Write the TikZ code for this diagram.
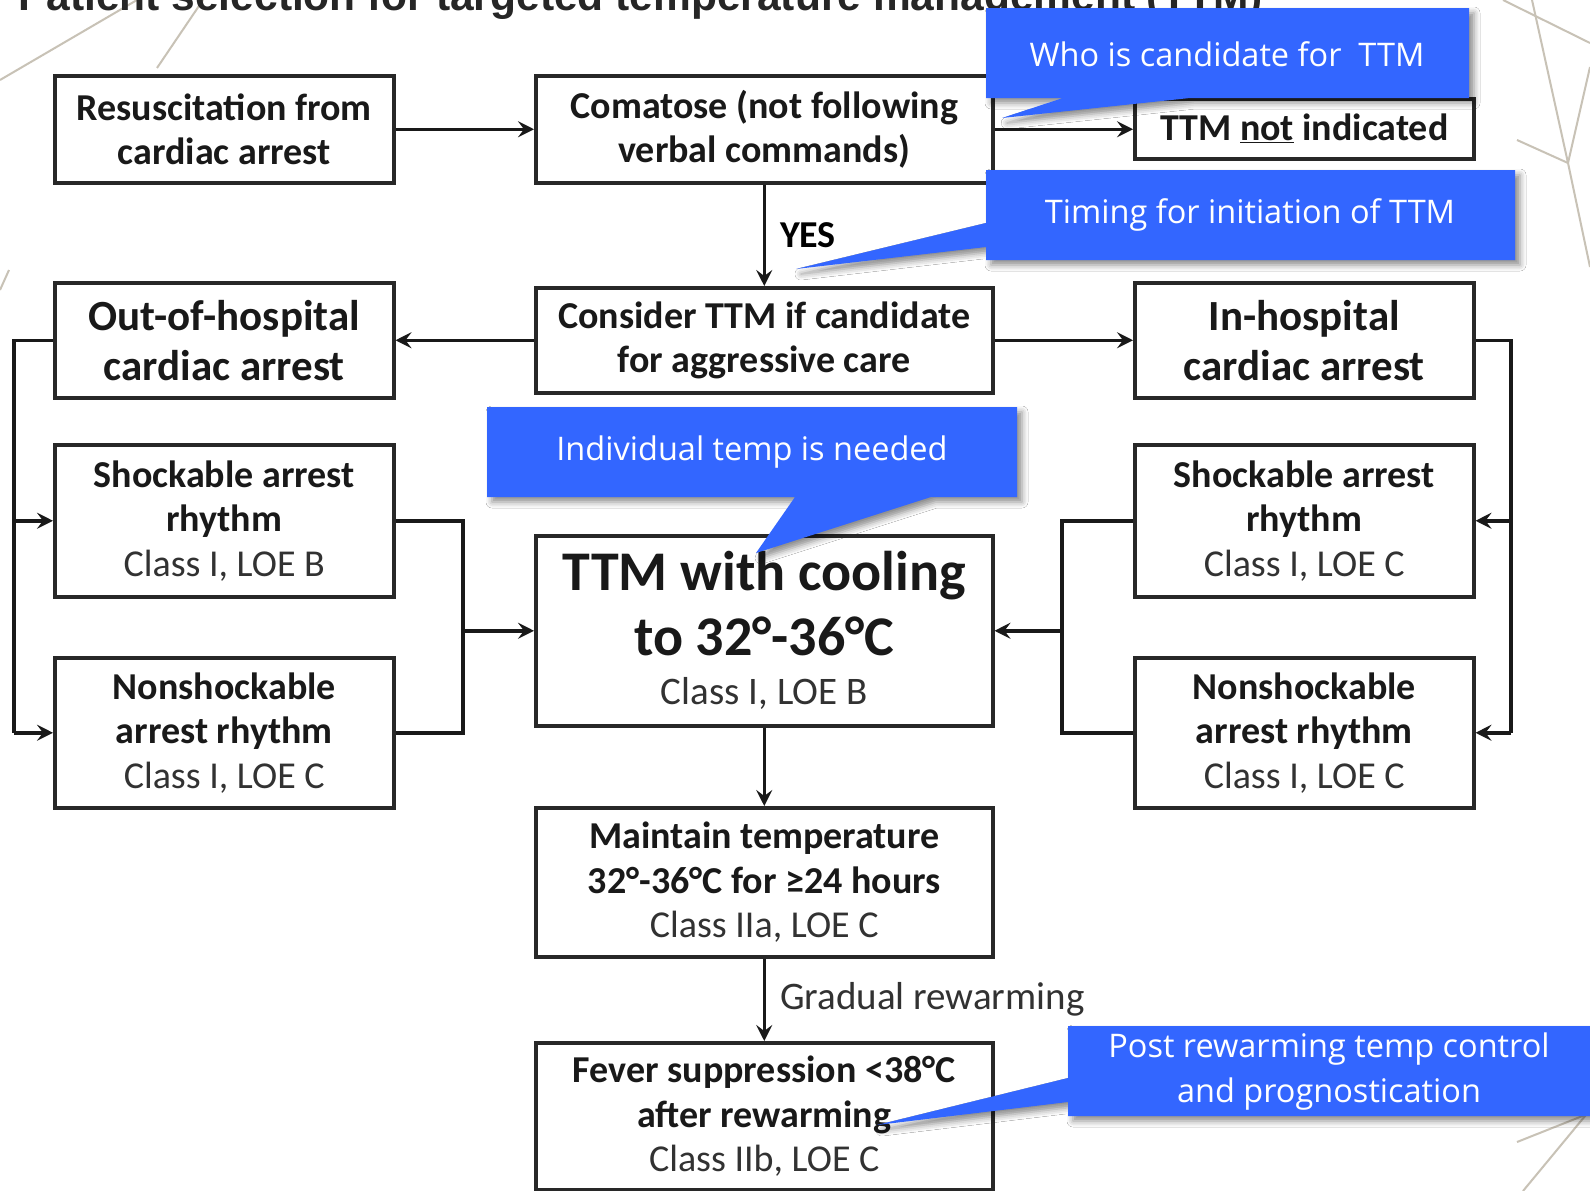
\documentclass[tikz,border=0pt]{standalone}
\usepackage{fontspec}
\setmainfont{Carlito}
\newfontfamily\callfont{Open Sans}
\newfontfamily\headfont{Liberation Sans}
\usetikzlibrary{arrows.meta,shadows.blur}

\definecolor{callblue}{RGB}{51,102,255}
\definecolor{boxline}{RGB}{40,40,40}
\definecolor{deco}{RGB}{200,194,182}
\definecolor{classgray}{RGB}{50,50,50}

% regular-weight grey line for the class / level-of-evidence rows
\newcommand\loe[1]{{\mdseries\color{classgray}#1}}

\tikzset{
  box/.style={draw=boxline, line width=3.5pt, fill=white, inner sep=0pt,
    align=center, anchor=north west, text=black!90,
    font=\fontsize{38}{44.5}\selectfont\bfseries},
  bigbox/.style={box, font=\fontsize{43}{50}\selectfont\bfseries},
  link/.style={line width=3.5pt, draw=black!90},
  arr/.style={link, -{Stealth[length=16pt,width=16pt,inset=6pt]}},
  callout/.style={fill=callblue,
    blur shadow={shadow xshift=5pt, shadow yshift=-5pt,
                 shadow blur radius=6pt, shadow opacity=45}},
  calltext/.style={text=white, align=center, inner sep=0pt,
    font=\callfont\fontsize{32.5}{45}\selectfont},
  decoline/.style={draw=deco, line width=2pt},
  edgelabel/.style={anchor=west, inner sep=2pt, xshift=12pt}
}

\begin{document}
\begin{tikzpicture}[x=1pt, y=-1pt]
  \fill[white] (0,0) rectangle (1590,1191);
  \useasboundingbox (0,0) rectangle (1590,1191);

  % thin background ornament lines
  \draw[decoline] (0,80) -- (137,0);
  \draw[decoline] (157,68) -- (203,0);
  \draw[decoline] (0,290) -- (9,270);
  \draw[decoline] (1503,0) -- (1590,43);
  \draw[decoline] (1532,0) -- (1568,163) -- (1590,267);
  \draw[decoline] (1517,140) -- (1568,163) -- (1590,67);
  \draw[decoline] (1517,1142) -- (1590,1113);
  \draw[decoline] (1523,1191) -- (1590,1110);

  % heading (mostly above the visible area)
  \node[anchor=base west, inner sep=0pt, text=black!85,
        font=\headfont\bfseries\fontsize{42.5}{50}\selectfont] (title) at (18,10)
        {Patient selection for targeted temperature management (TTM)};

  % flowchart boxes
  \node[box, minimum width=339pt, minimum height=107pt] (resus) at (53,74)
        {Resuscitation from\\cardiac arrest};
  \node[box, minimum width=457pt, minimum height=107pt] (coma) at (534,74)
        {Comatose (not following\\verbal commands)};
  \node[box, minimum width=339pt, minimum height=60pt] (notind) at (1133,97)
        {TTM \underline{not} indicated};
  \node[bigbox, minimum width=339pt, minimum height=115pt] (ohca) at (53,281)
        {Out-of-hospital\\cardiac arrest};
  \node[box, minimum width=457pt, minimum height=105pt] (consider) at (534,286)
        {Consider TTM if candidate\\for aggressive care};
  \node[bigbox, minimum width=339pt, minimum height=115pt] (ihca) at (1133,281)
        {In-hospital\\cardiac arrest};
  \node[box, minimum width=339pt, minimum height=152pt] (shockL) at (53,443)
        {Shockable arrest\\rhythm\\\loe{Class I, LOE B}};
  \node[box, minimum width=339pt, minimum height=150pt] (nonL) at (53,656)
        {Nonshockable\\arrest rhythm\\\loe{Class I, LOE C}};
  \node[box, minimum width=339pt, minimum height=152pt] (shockR) at (1133,443)
        {Shockable arrest\\rhythm\\\loe{Class I, LOE C}};
  \node[box, minimum width=339pt, minimum height=150pt] (nonR) at (1133,656)
        {Nonshockable\\arrest rhythm\\\loe{Class I, LOE C}};
  \node[box, minimum width=457pt, minimum height=190pt,
        font=\fontsize{56}{65}\selectfont\bfseries] (ttm) at (534,534)
        {TTM with cooling\\to 32°-36°C\\[-16pt]\loe{\fontsize{39}{45}\selectfont Class I, LOE B}};
  \node[box, minimum width=457pt, minimum height=149pt] (maint) at (534,806)
        {Maintain temperature\\32°-36°C for ≥24 hours\\\loe{Class IIa, LOE C}};
  \node[box, minimum width=457pt, minimum height=147pt] (fever) at (534,1041)
        {Fever suppression <38°C\\after rewarming\\\loe{Class IIb, LOE C}};

  % bus / merge columns
  \coordinate (lx) at (14,0);
  \coordinate (lm) at (463,0);
  \coordinate (rm) at (1062,0);
  \coordinate (rx) at (1511,0);

  % main column
  \draw[arr] (resus.east) -- (coma.west);
  \draw[arr] (coma.east) -- (coma.east -| notind.west);
  \draw[arr] (coma.south) -- node[edgelabel, font=\fontsize{38}{44}\selectfont\bfseries] (yes) {YES} (consider.north);
  \draw[arr] (consider.west) -- (consider.west -| ohca.east);
  \draw[arr] (consider.east) -- (consider.east -| ihca.west);
  \draw[arr] (ttm.south) -- (maint.north);
  \draw[arr] (maint.south) -- node[edgelabel, text=classgray, font=\fontsize{39}{45}\selectfont] (rewarm) {Gradual rewarming} (fever.north);

  % out-of-hospital branch
  \draw[link] (ohca.west) -| (lx |- nonL.west);
  \draw[arr] (lx |- shockL.west) -- (shockL.west);
  \draw[arr] (lx |- nonL.west) -- (nonL.west);
  \draw[link] (shockL.east) -| (lm |- ttm.west);
  \draw[link] (nonL.east) -| (lm |- ttm.west);
  \draw[arr] (lm |- ttm.west) -- (ttm.west);

  % in-hospital branch
  \draw[link] (ihca.east) -| (rx |- nonR.east);
  \draw[arr] (rx |- shockR.east) -- (shockR.east);
  \draw[arr] (rx |- nonR.east) -- (nonR.east);
  \draw[link] (shockR.west) -| (rm |- ttm.east);
  \draw[link] (nonR.west) -| (rm |- ttm.east);
  \draw[arr] (rm |- ttm.east) -- (ttm.east);

  % blue annotation callouts
  \fill[callout] (986,8) -- (1469,8) -- (1469,98) -- (1190,98) -- (1002,118)
        -- (1063,98) -- (986,98) -- cycle;
  \node[calltext] (c1) at (1227,54) {Who is candidate for\ \ TTM};

  \fill[callout] (986,170) -- (1515,170) -- (1515,260) -- (986,260) -- (986,247)
        -- (796,269) -- (986,223) -- cycle;
  \node[calltext] (c2) at (1250,215) {Timing for initiation of TTM};

  \fill[callout] (487,407) -- (1017,407) -- (1017,497) -- (931,497) -- (756,553)
        -- (795,497) -- (487,497) -- cycle;
  \node[calltext] (c3) at (752,452) {Individual temp is needed};

  \fill[callout] (1068,1026) -- (1610,1026) -- (1610,1116) -- (1068,1116) -- (1068,1102)
        -- (877,1125) -- (1068,1078) -- cycle;
  \node[calltext] (c4) at (1329,1072) {Post rewarming temp control\\and prognostication};
\end{tikzpicture}
\end{document}
